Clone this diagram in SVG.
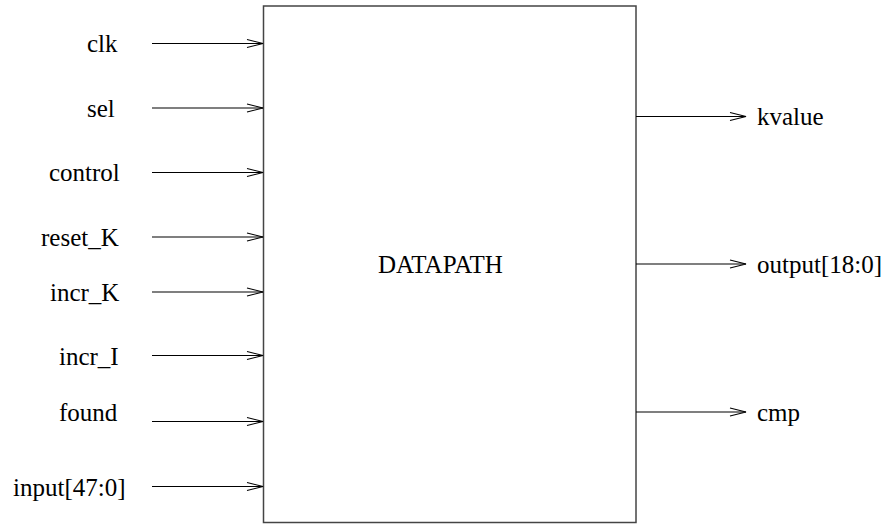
<svg xmlns="http://www.w3.org/2000/svg" width="893" height="525" viewBox="0 0 893 525">
<style>
.w{stroke:#000;stroke-width:1.1;fill:none}
.ah{stroke:#000;stroke-width:1.1;fill:none}
</style>
<rect width="893" height="525" fill="#fff"/>
<g font-family="Liberation Serif, Times New Roman, serif" font-size="25" fill="#000">
<g id="datapath">
<rect x="263.5" y="6" width="372.5" height="516.5" fill="none" stroke="#444" stroke-width="1.5"/>
<text x="378" y="273">DATAPATH</text>
</g>
<g id="labels">
<text x="87" y="52">clk</text>
<text x="87" y="117">sel</text>
<text x="49" y="181">control</text>
<text x="41" y="246">reset_K</text>
<text x="50" y="301">incr_K</text>
<text x="59" y="365">incr_I</text>
<text x="59" y="421">found</text>
<text x="13" y="496">input[47:0]</text>
<text x="757" y="125">kvalue</text>
<text x="757" y="273">output[18:0]</text>
<text x="757" y="421">cmp</text>
</g>
</g>
<g id="connectors">
<path class="w" d="M152 43.5H263M152 108H263M152 172.5H263M152 237H263M152 292H263M152 355.5H263M152 421.5H263M152 486.5H263"/>
<path class="ah" d="M247 39.5L263 43.5L247 47.5M247 104L263 108L247 112M247 168.5L263 172.5L247 176.5M247 233L263 237L247 241M247 288L263 292L247 296M247 351.5L263 355.5L247 359.5M247 417.5L263 421.5L247 425.5M247 482.5L263 486.5L247 490.5"/>
<path class="w" d="M636 116.5H746M636 264H746M636 412H746"/>
<path class="ah" d="M730 112.5L746 116.5L730 120.5M730 260L746 264L730 268M730 408L746 412L730 416"/>
</g>
</svg>
